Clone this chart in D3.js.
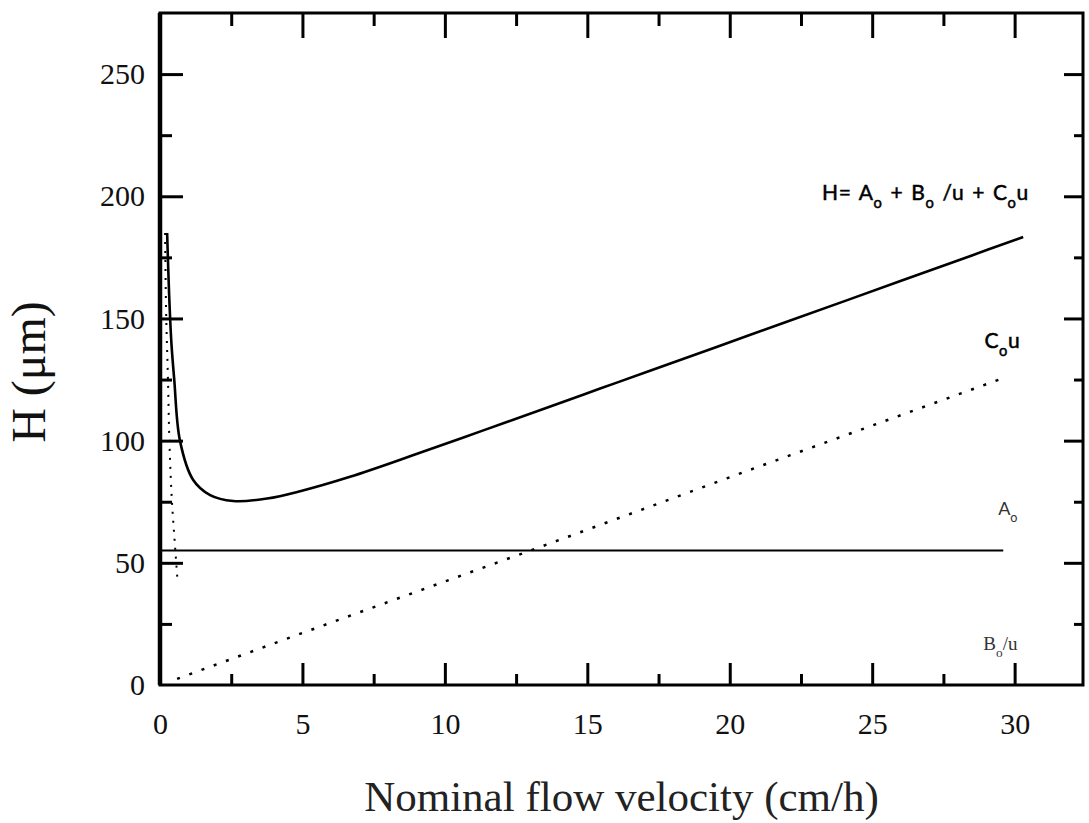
<!DOCTYPE html>
<html>
<head>
<meta charset="utf-8">
<script src="https://cdn.jsdelivr.net/npm/d3@7"></script>
<style>
  body { margin: 0; background: #fff; }
  svg { display: block; }
</style>
</head>
<body>
<svg width="1089" height="823"></svg>
<script>
// H = A + B/u + C u
var uTotal = [0.25, 0.32, 0.4, 0.5, 0.7, 1.16, 1.76, 2.57, 3.76, 4.92, 6.67, 9, 11.35, 13.7, 15.45, 17.2, 20.7, 24.2, 28.5, 30.3];
var hTotal = [185, 160, 140, 125, 100, 84, 77.7, 75.3, 76.3, 79.3, 85.2, 94.5, 104.2, 114, 121.3, 128.6, 143.2, 157.8, 175.8, 183.3];

var uA = [0, 29.6];
var hA = [55, 55];

var uC = [0.6, 5, 13, 20.7, 29.6];
var hC = [2.5, 21.3, 55, 88, 125.6];

var uB = [0.18, 0.22, 0.28, 0.33, 0.42, 0.52, 0.62];
var hB = [185, 150, 125, 100, 75, 58, 42];

var xMajor = [5, 10, 15, 20, 25, 30];
var xLabels = [0, 5, 10, 15, 20, 25, 30];
var xMinor = [2.5, 7.5, 12.5, 17.5, 22.5, 27.5];
var yMajor = [50, 100, 150, 200, 250];
var yLabels = [0, 50, 100, 150, 200, 250];
var yMinor = [25, 75, 125, 175, 225];

var svg = d3.select("svg"),
    pLeft = 160, pRight = 1083, pTop = 13, pBottom = 685;

var x = d3.scaleLinear().domain([0, 32.4]).range([pLeft, pRight]);
var y = d3.scaleLinear().domain([0, 275]).range([pBottom, pTop]);

var serif = "'Liberation Serif', 'Times New Roman', serif";

function pts(us, hs) { return us.map(function(u, i) { return [u, hs[i]]; }); }

var line = d3.line()
    .x(function(d) { return x(d[0]); })
    .y(function(d) { return y(d[1]); });

// ticks (inward, major + minor)
function tickAxis(axis, vals, size, tr) {
  var g = svg.append("g").attr("transform", tr)
      .call(axis.tickValues(vals).tickSizeInner(size).tickSizeOuter(0).tickFormat(""));
  g.select(".domain").remove();
  g.selectAll("line").attr("stroke", "#000").attr("stroke-width", 3);
  return g;
}
tickAxis(d3.axisBottom(x), xMajor, -22, "translate(0," + pBottom + ")");
tickAxis(d3.axisBottom(x), xMinor, -11, "translate(0," + pBottom + ")");
tickAxis(d3.axisTop(x), xMajor, -25, "translate(0," + pTop + ")");
tickAxis(d3.axisTop(x), xMinor, -13, "translate(0," + pTop + ")");
tickAxis(d3.axisLeft(y), yMajor, -23, "translate(" + pLeft + ",0)");
tickAxis(d3.axisLeft(y), yMinor, -12, "translate(" + pLeft + ",0)");
tickAxis(d3.axisRight(y), yMajor, -19, "translate(" + pRight + ",0)");
tickAxis(d3.axisRight(y), yMinor, -9, "translate(" + pRight + ",0)");

// tick labels
var gxl = svg.append("g").attr("transform", "translate(0," + pBottom + ")")
    .call(d3.axisBottom(x).tickValues(xLabels).tickSize(0).tickPadding(28));
gxl.select(".domain").remove();
gxl.selectAll("text").attr("font-family", serif).attr("font-size", 30).attr("fill", "#111");

var gyl = svg.append("g").attr("transform", "translate(" + pLeft + ",0)")
    .call(d3.axisLeft(y).tickValues(yLabels).tickSize(0).tickPadding(15));
gyl.select(".domain").remove();
gyl.selectAll("text").attr("font-family", serif).attr("font-size", 30).attr("fill", "#111");

// frame
svg.append("rect")
    .attr("x", pLeft).attr("y", pTop)
    .attr("width", pRight - pLeft).attr("height", pBottom - pTop)
    .attr("fill", "none").attr("stroke", "#000").attr("stroke-width", 3);
svg.append("line")
    .attr("x1", pLeft).attr("x2", pLeft).attr("y1", pTop).attr("y2", pBottom)
    .attr("stroke", "#000").attr("stroke-width", 4.5);

// curves
svg.append("path").datum(pts(uA, hA)).attr("d", line)
    .attr("fill", "none").attr("stroke", "#000").attr("stroke-width", 2);

svg.append("path").datum(pts(uC, hC)).attr("d", line)
    .attr("fill", "none").attr("stroke", "#000").attr("stroke-width", 2.5)
    .attr("stroke-dasharray", "3,10");

svg.append("path").datum(pts(uB, hB)).attr("d", line.curve(d3.curveMonotoneY))
    .attr("fill", "none").attr("stroke", "#000").attr("stroke-width", 2)
    .attr("stroke-dasharray", "2,7");

svg.append("path").datum(pts(uTotal, hTotal)).attr("d", line.curve(d3.curveCatmullRom))
    .attr("fill", "none").attr("stroke", "#000").attr("stroke-width", 2.6);

// curve labels
var sans = "Lato, 'Open Sans', sans-serif";
function sub(t, parts, size) {
  parts.forEach(function(p) {
    var s = t.append("tspan").text(p[0]);
    if (p[1]) s.attr("font-size", size * 0.7).attr("dy", size * 0.38);
    else if (p[2]) s.attr("dy", -size * 0.38);
  });
}

var f = svg.append("text").attr("x", x(30.5)).attr("y", y(198.4))
    .attr("text-anchor", "end").attr("font-family", sans).attr("font-size", 21)
    .attr("fill", "#000").attr("stroke", "#000").attr("stroke-width", 0.5)
    .attr("letter-spacing", 0.6).attr("word-spacing", 2);
sub(f, [["H= A"], ["o", 1], [" + B", 0, 1], ["o", 1], [" /u + C", 0, 1], ["o", 1], ["u", 0, 1]], 21);

var c = svg.append("text").attr("x", x(30.2)).attr("y", y(138))
    .attr("text-anchor", "end").attr("font-family", sans).attr("font-size", 21)
    .attr("fill", "#000").attr("stroke", "#000").attr("stroke-width", 0.5)
    .attr("letter-spacing", 0.6);
sub(c, [["C"], ["o", 1], ["u", 0, 1]], 21);

var a = svg.append("text").attr("x", x(30.1)).attr("y", y(69.5))
    .attr("text-anchor", "end").attr("font-family", sans).attr("font-size", 18)
    .attr("fill", "#333");
sub(a, [["A"], ["o", 1]], 18);

var b = svg.append("text").attr("x", x(30.1)).attr("y", y(14.3))
    .attr("text-anchor", "end").attr("font-family", serif).attr("font-size", 19)
    .attr("fill", "#333");
sub(b, [["B"], ["o", 1], ["/u", 0, 1]], 19);

// axis titles
svg.append("text")
    .attr("transform", "translate(45,372) rotate(-90)")
    .attr("text-anchor", "middle").attr("font-family", serif).attr("font-size", 48)
    .attr("fill", "#111")
    .text("H (\u03bcm)");

svg.append("text")
    .attr("x", (pLeft + pRight) / 2).attr("y", 811)
    .attr("text-anchor", "middle").attr("font-family", serif).attr("font-size", 43)
    .attr("fill", "#222")
    .text("Nominal flow velocity (cm/h)");
</script>
</body>
</html>
